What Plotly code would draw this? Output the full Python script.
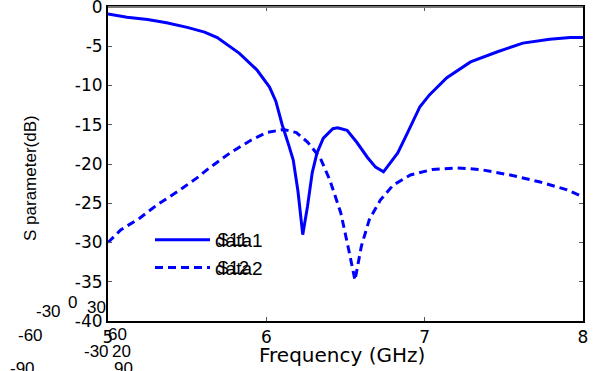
import plotly.graph_objects as go

# Reflection coefficient S11 (solid) and transmission S12 (dashed), in dB
freq_s11 = [5.00, 5.12, 5.25, 5.37, 5.50, 5.61, 5.69, 5.83, 5.94, 6.02, 6.06, 6.10,
            6.14, 6.17, 6.20, 6.23, 6.26, 6.29, 6.32, 6.36, 6.42, 6.45, 6.51, 6.57,
            6.64, 6.69, 6.74, 6.78, 6.83, 6.89, 6.97, 7.03, 7.14, 7.29, 7.46, 7.62,
            7.79, 7.92, 8.00]
s11_db = [-0.9, -1.3, -1.6, -2.0, -2.6, -3.2, -3.9, -5.9, -8.0, -10.2, -12.0, -15.0,
          -17.5, -19.5, -23.5, -29.0, -25.4, -21.1, -18.6, -16.7, -15.5, -15.4, -15.7, -17.2,
          -19.2, -20.4, -21.0, -19.9, -18.6, -16.1, -12.7, -11.2, -9.0, -7.0, -5.7, -4.6,
          -4.1, -3.9, -3.9]

freq_s12 = [5.00, 5.08, 5.20, 5.31, 5.44, 5.56, 5.64, 5.77, 5.90, 6.00, 6.11, 6.19,
            6.26, 6.34, 6.40, 6.47, 6.52, 6.56, 6.60, 6.65, 6.72, 6.80, 6.91, 7.05,
            7.20, 7.35, 7.54, 7.73, 7.90, 8.00]
s12_db = [-30.0, -28.4, -26.9, -25.2, -23.5, -21.8, -20.5, -18.6, -17.0, -16.0, -15.6, -16.0,
          -17.2, -19.2, -22.0, -26.2, -30.9, -34.8, -30.5, -27.1, -24.6, -22.7, -21.4, -20.7,
          -20.5, -20.7, -21.4, -22.3, -23.3, -24.2]

x_ticks = [5, 6, 7, 8]
y_ticks = [0, -5, -10, -15, -20, -25, -30, -35, -40]

# Stray polar-axis labels left over around the lower-left corner: (text, x px, y px)
polar_labels = [("-30", 48, 311), ("0", 72, 302), ("30", 96, 307),
                ("-60", 30, 335), ("60", 117, 334), ("-30", 96, 351),
                ("20", 121, 351), ("-90", 22, 368), ("90", 123, 368)]

W, H = 595, 371
L, R, T, B = 108, 12, 7, 50
pw, ph = W - L - R, H - T - B

def px(xp):
    return (xp - L) / pw

def py(yp):
    return (H - B - yp) / ph

blue = "#0000FF"
fig = go.Figure()
fig.add_trace(go.Scatter(x=freq_s11, y=s11_db, mode="lines", name="data1",
                         line=dict(color=blue, width=3)))
fig.add_trace(go.Scatter(x=freq_s12, y=s12_db, mode="lines", name="data2",
                         line=dict(color=blue, width=3, dash="8px,5px")))

tickfont = dict(family="DejaVu Sans", size=17, color="black")
fig.update_xaxes(range=[5, 8], tickvals=x_ticks, ticktext=[str(v) for v in x_ticks],
                 showgrid=False, zeroline=False, showline=True, linecolor="black",
                 linewidth=2, ticks="inside", ticklen=4, tickcolor="#555",
                 mirror="ticks", tickfont=tickfont, ticklabeloverflow="allow",
                 automargin=False)
fig.update_yaxes(range=[-40, 0], tickvals=y_ticks, ticktext=[str(v) for v in y_ticks],
                 showgrid=False, zeroline=False, showline=True, linecolor="black",
                 linewidth=2, ticks="inside", ticklen=4, tickcolor="#555",
                 mirror="ticks", tickfont=tickfont, ticklabeloverflow="allow",
                 automargin=False)

annos = [
    dict(text="Frequency (GHz)", x=px(342), y=py(355), xref="paper", yref="paper",
         xanchor="center", yanchor="middle", showarrow=False,
         font=dict(family="DejaVu Sans", size=20, color="black")),
    dict(text="S parameter(dB)", x=px(30), y=py(178), xref="paper", yref="paper",
         xanchor="center", yanchor="middle", showarrow=False, textangle=-90,
         font=dict(family="Liberation Sans", size=17, color="black")),
]
for txt, xp, yp in [("S11", 215, 240), ("S12", 215, 268)]:
    annos.append(dict(text=txt, x=px(xp), y=py(yp), xref="paper", yref="paper",
                      xanchor="left", yanchor="middle", showarrow=False,
                      font=dict(family="Liberation Sans", size=18, color="black")))
for txt, xp, yp in polar_labels:
    annos.append(dict(text=txt, x=px(xp), y=py(yp), xref="paper", yref="paper",
                      xanchor="center", yanchor="middle", showarrow=False,
                      font=dict(family="Liberation Sans", size=17, color="black")))

fig.update_layout(
    width=W, height=H, margin=dict(l=L, r=R, t=T, b=B),
    paper_bgcolor="white", plot_bgcolor="white",
    showlegend=True,
    legend=dict(x=px(150), y=py(221), xanchor="left", yanchor="top",
                bgcolor="rgba(0,0,0,0)", itemwidth=55, tracegroupgap=0,
                font=dict(family="Liberation Sans", size=19, color="black")),
    annotations=annos,
    shapes=[dict(type="line", xref="paper", yref="paper", x0=0, x1=1, y0=1, y1=1,
                 line=dict(color="#777", width=2))],
)

fig.write_html("out.html")
